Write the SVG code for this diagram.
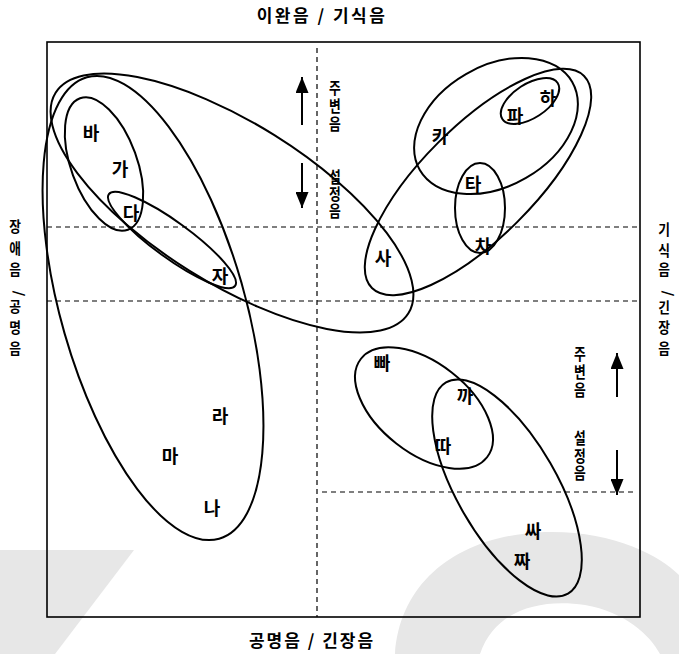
<svg xmlns="http://www.w3.org/2000/svg" width="679" height="654" viewBox="0 0 679 654">
<style>
 .wm{fill:#e7e7e7}
 .frame{fill:none;stroke:#000;stroke-width:1.6}
 .dash{fill:none;stroke:#000;stroke-width:1.2;stroke-dasharray:5 4}
 .grp ellipse{fill:none;stroke:#000;stroke-width:2}
 .arr{fill:none;stroke:#000;stroke-width:2}
 text{font-family:"Noto Sans CJK KR","Noto Sans CJK SC",sans-serif;font-weight:700;fill:#000}
 .lbl{font-size:18px;text-anchor:middle;dominant-baseline:central}
 .ax{font-size:17px;text-anchor:middle}
 .vt{font-size:16px;text-anchor:middle;dominant-baseline:central}
 .side{font-size:15px;text-anchor:middle;dominant-baseline:central}
 .sl{text-anchor:start}
</style>
<defs>
 <marker id="ah" viewBox="0 0 16 13" refX="16" refY="6.5" markerWidth="16" markerHeight="13" markerUnits="userSpaceOnUse" orient="auto">
  <path d="M0,0 L16,6.5 L0,13 Z" fill="#000"/>
 </marker>
</defs>

<g id="watermark">
 <polygon class="wm" points="0,550 134,550 55,654 0,654"/>
 <path class="wm" fill-rule="evenodd" d="M395,654 C400,580 460,535 545,532 C610,530 660,555 679,575 L679,654 Z M480,654 C495,610 540,598 585,605 C625,612 650,635 660,654 Z"/>
</g>

<g id="frame">
 <rect class="frame" x="47" y="42" width="593" height="575"/>
 <line class="dash" x1="317" y1="48" x2="317" y2="617"/>
 <line class="dash" x1="47" y1="227" x2="637" y2="227"/>
 <line class="dash" x1="47" y1="301" x2="637" y2="301"/>
 <line class="dash" x1="322" y1="492" x2="637" y2="492"/>
</g>

<g id="axis-labels">
 <text class="ax" x="322" y="22" letter-spacing="2.5">이완음 / 기식음</text>
 <text class="ax" x="312" y="647" letter-spacing="2">공명음 / 긴장음</text>
 <text class="side" transform="matrix(0.85 0 0 1 15 0)"><tspan x="0" y="226">장</tspan><tspan x="0" y="248">애</tspan><tspan x="0" y="269">음</tspan><tspan class="sl" x="0" y="284" rotate="90">/</tspan><tspan x="0" y="306">공</tspan><tspan x="0" y="327">명</tspan><tspan x="0" y="348">음</tspan></text>
 <text class="side" transform="matrix(0.85 0 0 1 664 0)"><tspan x="0" y="229">기</tspan><tspan x="0" y="250">식</tspan><tspan x="0" y="269">음</tspan><tspan class="sl" x="0" y="284" rotate="90">/</tspan><tspan x="0" y="307">긴</tspan><tspan x="0" y="327">장</tspan><tspan x="0" y="348">음</tspan></text>
</g>

<g id="groups" class="grp">
 <ellipse id="g-big" cx="153" cy="308" rx="240" ry="92" transform="rotate(74 153 308)"/>
 <ellipse id="g-a" cx="104" cy="164" rx="70" ry="33" transform="rotate(70 104 164)"/>
 <ellipse id="g-b" cx="172" cy="240" rx="78" ry="18" transform="rotate(36 172 240)"/>
 <ellipse id="g-d" cx="232" cy="203" rx="208" ry="80" transform="rotate(32 232 203)"/>
 <ellipse id="g-r" cx="478" cy="182" rx="150" ry="56" transform="rotate(-45 478 182)"/>
 <ellipse id="g-k" cx="496" cy="126" rx="88" ry="60" transform="rotate(-30 496 126)"/>
 <ellipse id="g-p" cx="530" cy="101" rx="33" ry="17" transform="rotate(-33 530 101)"/>
 <ellipse id="g-t" cx="480" cy="208" rx="25" ry="45"/>
 <ellipse id="g-e1" cx="424" cy="408" rx="80" ry="45" transform="rotate(38 424 408)"/>
 <ellipse id="g-e2" cx="507" cy="488" rx="122" ry="50" transform="rotate(60 507 488)"/>
</g>

<g id="connectors">
 <line class="arr" x1="302" y1="125" x2="302" y2="77" marker-end="url(#ah)"/>
 <line class="arr" x1="302" y1="163" x2="302" y2="208" marker-end="url(#ah)"/>
 <line class="arr" x1="617" y1="397" x2="617" y2="353" marker-end="url(#ah)"/>
 <line class="arr" x1="617" y1="450" x2="617" y2="495" marker-end="url(#ah)"/>
</g>

<g id="arrow-labels">
 <text class="vt" transform="matrix(0.8 0 0 1 335 0)"><tspan x="0" y="86">주</tspan><tspan x="0" y="104">변</tspan><tspan x="0" y="122">음</tspan></text>
 <text class="vt" transform="matrix(0.8 0 0 1 335 0)"><tspan x="0" y="175">설</tspan><tspan x="0" y="192">정</tspan><tspan x="0" y="209">음</tspan></text>
 <text class="vt" transform="matrix(0.8 0 0 1 580 0)"><tspan x="0" y="352">주</tspan><tspan x="0" y="370">변</tspan><tspan x="0" y="388">음</tspan></text>
 <text class="vt" transform="matrix(0.8 0 0 1 580 0)"><tspan x="0" y="436">설</tspan><tspan x="0" y="454">정</tspan><tspan x="0" y="471">음</tspan></text>
</g>

<g id="n-ba"><text class="lbl" x="91" y="132">바</text></g>
<g id="n-ga"><text class="lbl" x="120" y="168">가</text></g>
<g id="n-da"><text class="lbl" x="131" y="212">다</text></g>
<g id="n-ja"><text class="lbl" x="220" y="275">자</text></g>
<g id="n-ra"><text class="lbl" x="220" y="415">라</text></g>
<g id="n-ma"><text class="lbl" x="170" y="455">마</text></g>
<g id="n-na"><text class="lbl" x="212" y="507">나</text></g>
<g id="n-sa"><text class="lbl" x="383" y="257">사</text></g>
<g id="n-ka"><text class="lbl" x="440" y="135">카</text></g>
<g id="n-ta"><text class="lbl" x="473" y="183">타</text></g>
<g id="n-cha"><text class="lbl" x="483" y="245">차</text></g>
<g id="n-pa"><text class="lbl" x="515" y="115">파</text></g>
<g id="n-ha"><text class="lbl" x="548" y="97">하</text></g>
<g id="n-ppa"><text class="lbl" x="382" y="362">빠</text></g>
<g id="n-kka"><text class="lbl" x="465" y="395">까</text></g>
<g id="n-tta"><text class="lbl" x="443" y="445">따</text></g>
<g id="n-ssa"><text class="lbl" x="533" y="530">싸</text></g>
<g id="n-jja"><text class="lbl" x="522" y="560">짜</text></g>
</svg>
